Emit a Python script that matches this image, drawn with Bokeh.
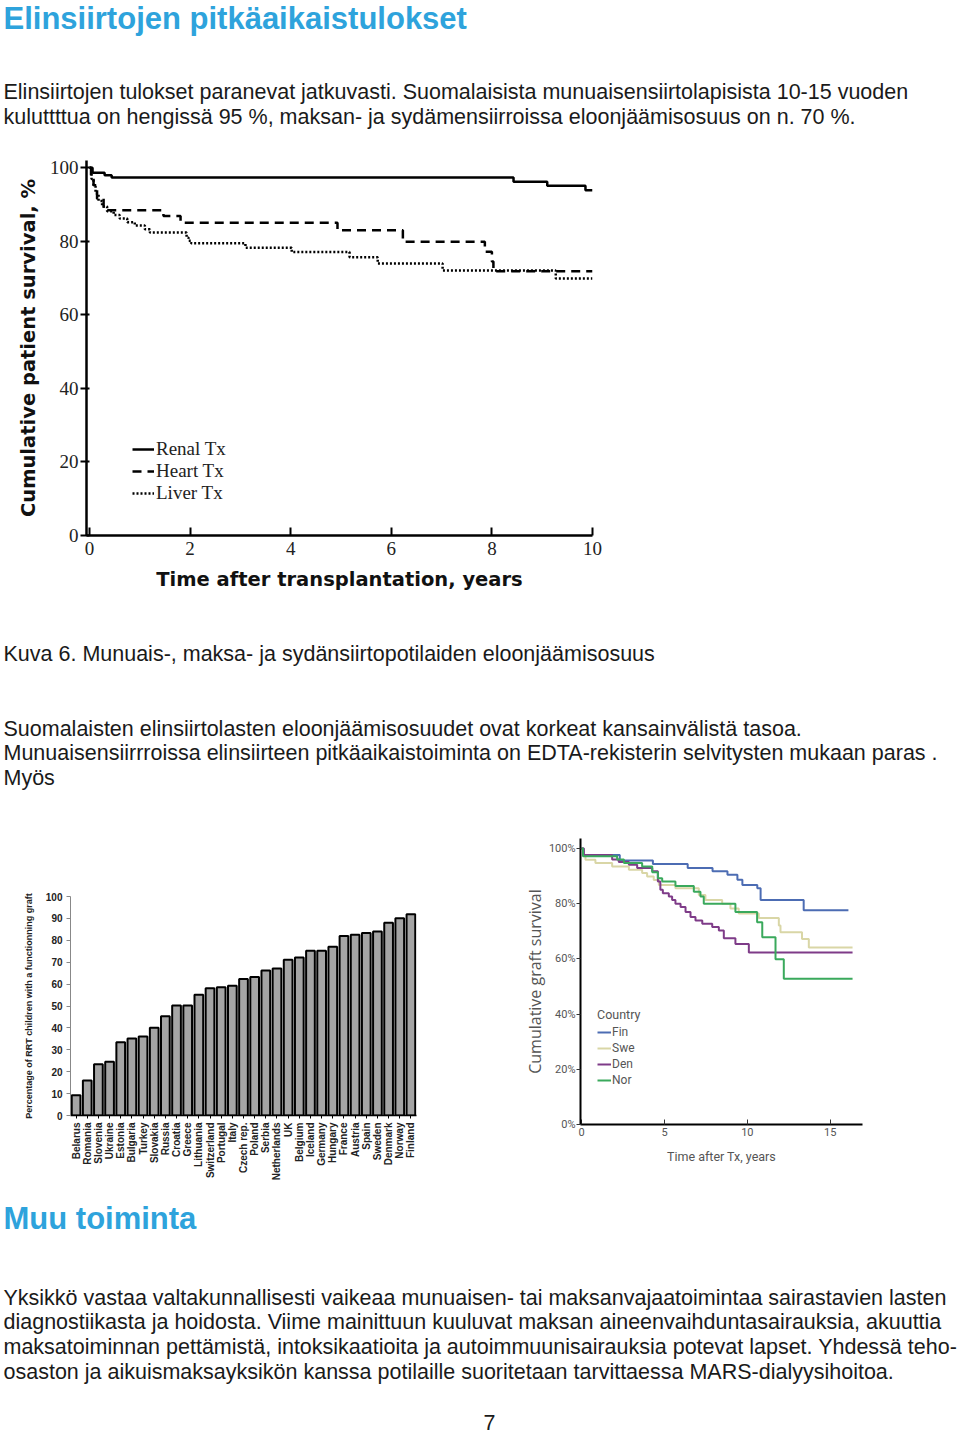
import math
from bokeh.plotting import figure
from bokeh.layouts import column, row
from bokeh.models import Range1d, FixedTicker, Legend, LegendItem, FactorRange
from bokeh.core.properties import value
from bokeh.embed import file_html
from bokeh.resources import INLINE

# ---------------- texts ----------------
title_top = "Elinsiirtojen pitkäaikaistulokset"
para_top = [
    "Elinsiirtojen tulokset paranevat jatkuvasti. Suomalaisista munuaisensiirtolapisista 10-15 vuoden",
    "kuluttttua on hengissä 95 %, maksan- ja sydämensiirroissa eloonjäämisosuus on n. 70 %.",
]
caption = "Kuva 6. Munuais-, maksa- ja sydänsiirtopotilaiden eloonjäämisosuus"
para_mid = [
    "Suomalaisten elinsiirtolasten eloonjäämisosuudet ovat korkeat kansainvälistä tasoa.",
    "Munuaisensiirrroissa elinsiirteen pitkäaikaistoiminta on EDTA-rekisterin selvitysten mukaan paras .",
    "Myös",
]
title_bottom = "Muu toiminta"
para_bottom = [
    "Yksikkö vastaa valtakunnallisesti vaikeaa munuaisen- tai maksanvajaatoimintaa sairastavien lasten",
    "diagnostiikasta ja hoidosta. Viime mainittuun kuuluvat maksan aineenvaihduntasairauksia, akuuttia",
    "maksatoiminnan pettämistä, intoksikaatioita ja autoimmuunisairauksia potevat lapset. Yhdessä teho-",
    "osaston ja aikuismaksayksikön kanssa potilaille suoritetaan tarvittaessa MARS-dialyysihoitoa.",
]
page_number = "7"

# ---------------- chart 1: patient survival ----------------
renal_t = [0, 0.06, 0.3, 0.44, 8.43, 9.1, 9.86, 10.0]
renal_s = [100, 98.7, 98.0, 97.4, 96.2, 95.1, 93.9, 93.9]
heart_t = [0, 0.03, 0.08, 0.15, 0.28, 1.47, 1.81, 4.93, 6.23, 7.86, 8.0, 8.03, 10.0]
heart_s = [100, 97.5, 95.3, 91.6, 88.5, 86.9, 85.1, 83.0, 79.9, 77.2, 74.5, 71.9, 71.9]
liver_t = [0, 0.04, 0.08, 0.12, 0.18, 0.25, 0.35, 0.48, 0.6, 0.75, 0.9, 1.1, 1.2,
           1.93, 1.97, 2.02, 3.1, 4.02, 5.17, 5.73, 7.02, 9.27, 10.0]
liver_s = [100, 97, 95, 93, 91, 89.5, 88.2, 87.2, 86.2, 85.2, 84.3, 83.3, 82.4,
           81.0, 80.2, 79.5, 78.3, 77.1, 75.7, 74.0, 72.1, 69.9, 69.9]
tx_labels = ["Renal Tx", "Heart Tx", "Liver Tx"]
c1_xticks = [0, 2, 4, 6, 8, 10]
c1_yticks = [0, 20, 40, 60, 80, 100]

# ---------------- chart 2: bar chart ----------------
countries = ["Belarus", "Romania", "Slovenia", "Ukraine", "Estonia", "Bulgaria", "Turkey",
             "Slovakia", "Russia", "Croatia", "Greece", "Lithuania", "Switzerland", "Portugal",
             "Italy", "Czech rep.", "Poland", "Serbia", "Netherlands", "UK", "Belgium", "Iceland",
             "Germany", "Hungary", "France", "Austria", "Spain", "Sweden", "Denmark", "Norway",
             "Finland"]
graft_pct = [9.2, 16.0, 23.4, 24.6, 33.4, 35.2, 36.1, 40.1, 45.3, 50.2, 50.2, 55.1, 58.1,
             58.6, 59.2, 62.3, 63.2, 66.2, 67.1, 71.1, 72.1, 75.2, 75.2, 77.0, 82.0, 82.5,
             83.3, 84.0, 88.0, 90.1, 91.9]
bar_yticks = [0, 10, 20, 30, 40, 50, 60, 70, 80, 90, 100]

# ---------------- chart 3: graft survival by country ----------------
fin_t = [0, 0.13, 2.3, 4.3, 6.4, 7.9, 8.8, 9.4, 9.7, 10.6, 10.8, 13.4, 16.1]
fin_s = [100, 97.6, 95.6, 94.4, 92.9, 91.7, 90.5, 88.7, 86.8, 85.6, 81.3, 77.6, 77.6]
swe_t = [0, 0.1, 0.23, 0.83, 1.84, 2.85, 3.65, 3.95, 4.35, 4.66, 5.66, 7.07, 7.47, 8.48,
         8.98, 9.48, 10.69, 11.9, 12.0, 13.3, 13.71, 16.35]
swe_s = [100, 97.5, 95.9, 94.7, 93.5, 92.3, 91.1, 89.8, 88.6, 86.8, 85.6, 83.1, 81.3, 80.0,
         78.2, 76.4, 74.8, 72.1, 69.6, 67.2, 64.1, 64.1]
den_t = [0, 0.13, 1.84, 2.24, 2.85, 3.35, 4.26, 4.6, 4.75, 4.9, 5.26, 5.46, 5.66, 5.97,
         6.27, 6.57, 6.87, 7.28, 7.88, 8.28, 8.58, 9.28, 10.09, 16.35]
den_s = [100, 97.6, 96.0, 95.1, 94.1, 92.9, 91.7, 88.0, 85.0, 83.8, 82.6, 81.3, 80.0, 78.8,
         77.0, 75.2, 73.9, 72.7, 71.5, 70.3, 67.5, 65.4, 62.3, 62.3]
nor_t = [0, 0.08, 2.14, 2.55, 3.65, 4.26, 4.6, 4.86, 5.66, 6.77, 7.17, 7.37, 9.28, 10.59,
         10.9, 11.7, 12.2, 16.35]
nor_s = [100, 97.2, 96.0, 94.7, 93.5, 91.4, 89.2, 88.0, 86.4, 84.3, 82.6, 80.0, 77.0, 73.3,
         67.8, 59.9, 52.8, 52.8]
country_names = ["Fin", "Swe", "Den", "Nor"]
country_colors = ["#4c6cb3", "#d9d6a6", "#7e3b88", "#3aa95c"]
c3_xticks = [0, 5, 10, 15]
c3_yticks = [0, 20, 40, 60, 80, 100]

BLUE = "#2ea3dc"
TXT = "#1a1a1a"
SANS = "Liberation Sans"
BODY = "21.5px"
HEAD = "31px"
TW = 958
TX = 3


def text_fig(w, h):
    p = figure(width=w, height=h, x_range=Range1d(0, w), y_range=Range1d(h, 0),
               x_axis_type=None, y_axis_type=None, min_border=0,
               toolbar_location=None, output_backend="svg")
    p.grid.visible = False
    p.outline_line_color = None
    p.frame_align = False
    return p


def put_text(p, x, ys, lines, size, color=TXT, bold=False, align="left"):
    p.text(x=[x] * len(lines), y=ys, text=lines, text_font=value(SANS),
           text_font_size=size, text_color=color, text_baseline="middle",
           text_align=align, text_font_style="bold" if bold else "normal")


# ---- block A (top text) ----
pa = text_fig(TW, 150)
put_text(pa, TX, [18], [title_top], HEAD, BLUE, bold=True)
put_text(pa, TX, [91, 116], para_top, BODY)

# ---- chart 1 ----
p1 = figure(width=622, height=455, x_range=Range1d(-0.06, 10.0), y_range=Range1d(0, 102),
            min_border_left=86, min_border_right=30, min_border_top=10, min_border_bottom=70,
            toolbar_location=None, output_backend="svg")
p1.frame_align = False
p1.grid.visible = False
p1.outline_line_color = None
r_renal = p1.step(renal_t, renal_s, mode="after", line_color="black", line_width=2.5)
r_heart = p1.step(heart_t, heart_s, mode="after", line_color="black", line_width=2.5,
                  line_dash="9 6")
r_liver = p1.step(liver_t, liver_s, mode="after", line_color="black", line_width=2.5,
                  line_dash="2 2")
for ax in (p1.xaxis[0], p1.yaxis[0]):
    ax.axis_line_width = 2.5
    ax.axis_line_color = "black"
    ax.major_tick_line_width = 2
    ax.major_tick_line_color = "black"
    ax.minor_tick_line_color = None
    ax.major_label_text_font = "Liberation Serif"
    ax.major_label_text_font_size = "19px"
    ax.major_label_text_color = "#222"
    ax.axis_label_text_font = "DejaVu Sans"
    ax.axis_label_text_font_style = "bold"
    ax.axis_label_text_font_size = "19.5px"
    ax.axis_label_text_color = "#111"
p1.xaxis.ticker = FixedTicker(ticks=c1_xticks)
p1.yaxis.ticker = FixedTicker(ticks=c1_yticks)
p1.xaxis.major_tick_in = 8
p1.xaxis.major_tick_out = 0
p1.yaxis.major_tick_in = 3
p1.yaxis.major_tick_out = 6
p1.xaxis.major_label_standoff = 6
p1.yaxis.major_label_standoff = 2
p1.xaxis.axis_label = "Time after transplantation, years"
p1.yaxis.axis_label = "Cumulative patient survival, %"
p1.xaxis.axis_label_standoff = 10
p1.yaxis.axis_label_standoff = 7
leg1 = Legend(items=[LegendItem(label=tx_labels[0], renderers=[r_renal]),
                     LegendItem(label=tx_labels[1], renderers=[r_heart]),
                     LegendItem(label=tx_labels[2], renderers=[r_liver])],
              location=(46, 31))
leg1.border_line_color = None
leg1.background_fill_alpha = 0
leg1.padding = 0
leg1.margin = 0
leg1.spacing = 0
leg1.label_height = 22
leg1.glyph_height = 22
leg1.glyph_width = 22
leg1.label_standoff = 2
leg1.label_text_font = "Liberation Serif"
leg1.label_text_font_size = "19px"
leg1.label_text_color = "#222"
p1.add_layout(leg1)

# ---- block C (middle text) ----
pc = text_fig(TW, 225)
put_text(pc, TX, [48], [caption], BODY)
put_text(pc, TX, [123, 147, 172], para_mid, BODY)

# ---- chart 2 (bars) ----
p2 = figure(width=430, height=355, x_range=FactorRange(*countries), y_range=Range1d(0, 100),
            min_border_left=70, min_border_right=14, min_border_top=66, min_border_bottom=70,
            toolbar_location=None, output_backend="svg")
p2.frame_align = False
p2.grid.visible = False
p2.outline_line_color = None
p2.vbar(x=countries, top=graft_pct, width=0.78, fill_color="#a5a5a5", line_color="black",
        line_width=2)
p2.yaxis.ticker = FixedTicker(ticks=bar_yticks)
p2.yaxis.axis_line_color = "#888"
p2.yaxis.major_tick_line_color = "#888"
p2.yaxis.major_tick_in = 0
p2.yaxis.major_tick_out = 4
p2.yaxis.minor_tick_line_color = None
p2.yaxis.major_label_standoff = 4
p2.xaxis.axis_line_color = "black"
p2.xaxis.axis_line_width = 1.5
p2.xaxis.major_tick_in = 0
p2.xaxis.major_tick_out = 3
p2.xaxis.major_label_orientation = math.pi / 2
p2.xaxis.major_label_standoff = 4
for ax in (p2.xaxis[0], p2.yaxis[0]):
    ax.major_label_text_font = SANS
    ax.major_label_text_font_style = "bold"
    ax.major_label_text_font_size = "10px"
    ax.major_label_text_color = "#222"
p2.yaxis.axis_label = "Percentage of RRT children with a functionning graft"
p2.yaxis.axis_label_text_font = SANS
p2.yaxis.axis_label_text_font_style = "bold"
p2.yaxis.axis_label_text_font_size = "9px"
p2.yaxis.axis_label_text_color = "#222"
p2.yaxis.axis_label_standoff = 9

# ---- chart 3 (graft survival) ----
p3 = figure(width=450, height=355, x_range=Range1d(-0.07, 16.95), y_range=Range1d(0, 103.6),
            min_border_left=150, min_border_right=18, min_border_top=8, min_border_bottom=61,
            toolbar_location=None, output_backend="svg")
p3.frame_align = False
p3.grid.visible = False
p3.outline_line_color = None
series3 = [(fin_t, fin_s), (swe_t, swe_s), (den_t, den_s), (nor_t, nor_s)]
items3 = []
for (tt, ss), nm, col in zip(series3, country_names, country_colors):
    r = p3.step(tt, ss, mode="after", line_color=col, line_width=2)
    items3.append(LegendItem(label=nm, renderers=[r]))
for ax in (p3.xaxis[0], p3.yaxis[0]):
    ax.axis_line_width = 2
    ax.axis_line_color = "black"
    ax.major_tick_line_color = "#333"
    ax.major_tick_line_width = 1
    ax.minor_tick_line_color = None
    ax.major_label_text_font = "Roboto"
    ax.major_label_text_font_size = "11px"
    ax.major_label_text_color = "#555"
    ax.axis_label_text_font_style = "normal"
    ax.axis_label_text_color = "#555"
p3.xaxis.ticker = FixedTicker(ticks=c3_xticks)
p3.yaxis.ticker = FixedTicker(ticks=c3_yticks)
p3.yaxis.major_label_overrides = {t: f"{t}%" for t in c3_yticks}
p3.xaxis.major_tick_in = 5
p3.xaxis.major_tick_out = 0
p3.yaxis.major_tick_in = 0
p3.yaxis.major_tick_out = 4
p3.xaxis.major_label_standoff = 3
p3.yaxis.major_label_standoff = 1
p3.xaxis.axis_label = "Time after Tx, years"
p3.xaxis.axis_label_text_font = "Roboto"
p3.xaxis.axis_label_text_font_size = "12.5px"
p3.xaxis.axis_label_standoff = 10
p3.yaxis.axis_label = "Cumulative graft survival"
p3.yaxis.axis_label_text_font = "Open Sans"
p3.yaxis.axis_label_text_font_size = "16px"
p3.yaxis.axis_label_standoff = 0
leg3 = Legend(items=items3, location=(17, 36), title="Country")
leg3.title_text_font = "Roboto"
leg3.title_text_font_size = "12.5px"
leg3.title_text_font_style = "normal"
leg3.title_text_color = "#555"
leg3.title_standoff = 2
leg3.border_line_color = None
leg3.background_fill_alpha = 0
leg3.padding = 0
leg3.margin = 0
leg3.spacing = 0
leg3.label_height = 16
leg3.glyph_height = 16
leg3.glyph_width = 14
leg3.label_standoff = 1
leg3.label_text_font = "Roboto"
leg3.label_text_font_size = "12px"
leg3.label_text_color = "#555"
p3.add_layout(leg3)

# ---- block E (bottom text) ----
pe = text_fig(TW, 252)
put_text(pe, TX, [33], [title_bottom], HEAD, BLUE, bold=True)
put_text(pe, TX, [112, 136, 161, 186], para_bottom, BODY)
put_text(pe, 489, [237], [page_number], BODY, align="center")

layout = column(pa, p1, pc, row(p2, p3), pe)
open("out.html", "w").write(file_html(layout, INLINE))
